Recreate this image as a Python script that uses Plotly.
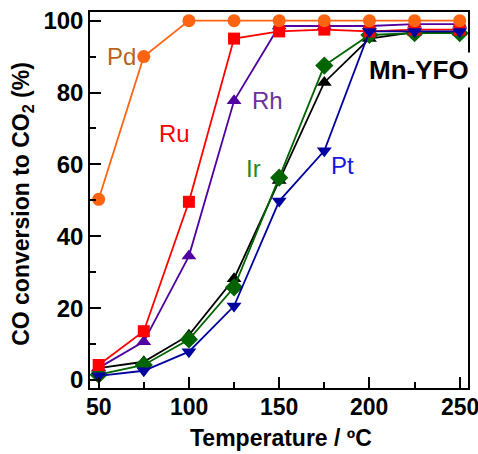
import plotly.graph_objects as go

temps = [50, 75, 100, 125, 150, 175, 200, 225, 250]
pd_vals = [50.3, 90, 100, 100, 100, 100, 100, 100, 100]
ru_vals = [4.2, 13.6, 49.6, 95, 97, 97.5, 97, 97.5, 97.5]
rh_vals = [3.4, 10.7, 34.5, 77.7, 98.5, 98.5, 98.5, 99, 99]
blk_vals = [3.3, 5.1, 12.5, 28.2, 55.5, 82.8, 95, 96.8, 96.8]
ir_vals = [1.5, 4.2, 11.3, 25.8, 56.3, 87.5, 96, 96.5, 96.5]
pt_vals = [1.2, 2.6, 7.9, 20.6, 49.8, 63.8, 97, 97, 97]

x_ticks = [50, 100, 150, 200, 250]
y_ticks = [0, 20, 40, 60, 80, 100]

FONT = "Arial, Liberation Sans, sans-serif"

series = [
    (blk_vals, "#000000", "triangle-up", 13),
    (ir_vals, "#006400", "diamond", 14),
    (rh_vals, "#5000A0", "triangle-up", 13),
    (ru_vals, "#FF0000", "square", 12),
    (pt_vals, "#0000A0", "triangle-down", 13),
    (pd_vals, "#FF6410", "circle", 13),
]

fig = go.Figure()
for vals, col, sym, sz in series:
    fig.add_trace(go.Scatter(
        x=temps, y=vals, mode="lines+markers",
        line=dict(color=col, width=1.8),
        marker=dict(symbol=sym, size=sz, color=col, line=dict(width=0)),
        showlegend=False, cliponaxis=False,
    ))

labels = [
    ("Pd", 62.5, 89.9, "#B5651D"),
    ("Ru", 91.9, 68.5, "#FF0000"),
    ("Rh", 143.4, 77.9, "#7030A0"),
    ("Ir", 135.7, 59.0, "#1E8C1E"),
    ("Pt", 185.0, 59.8, "#1515E6"),
]
for txt, xx, yy, col in labels:
    fig.add_annotation(x=xx, y=yy, text=txt, showarrow=False,
                       font=dict(family=FONT, size=24, color=col))

fig.add_annotation(x=227.6, y=86.3, text="<b>Mn-YFO</b>", showarrow=False,
                   bgcolor="white", borderpad=2,
                   font=dict(family=FONT, size=26, color="#000000"))

# x tick labels drawn as annotations at the data positions (so the last one is not dropped at the edge)
for t in x_ticks:
    fig.add_annotation(x=t, y=0, xref="x", yref="paper", yanchor="top", yshift=-4,
                       showarrow=False, text=f"<b>{t}</b>",
                       font=dict(family=FONT, size=23, color="black"))

# axis titles placed in paper coordinates (plot area: x 90..468, y 12..388 px)
fig.add_annotation(xref="paper", yref="paper", x=0.505, y=-0.1729,
                   xanchor="center", yanchor="bottom", showarrow=False,
                   text="<b>Temperature / ºC</b>",
                   font=dict(family=FONT, size=23, color="black"))
fig.add_annotation(xref="paper", yref="paper", x=-0.177, y=0.49,
                   xanchor="center", yanchor="middle", showarrow=False, textangle=-90,
                   text="<b>CO conversion to CO<sub>2</sub> (%)</b>",
                   font=dict(family=FONT, size=23, color="black"))

axis_common = dict(
    showline=True, linecolor="black", linewidth=1.5, mirror=True,
    ticks="inside", ticklen=11, tickwidth=1.5, tickcolor="black",
    showgrid=False, zeroline=False, automargin=False,
    tickfont=dict(family=FONT, size=24, color="black", weight="bold"),
)

fig.update_xaxes(
    range=[45.2, 254.6], tickvals=x_ticks, showticklabels=False,
    minor=dict(ticks="inside", ticklen=6, tickwidth=1.5, tickcolor="black", dtick=25, tick0=50, showgrid=False),
    **axis_common,
)
fig.update_yaxes(
    range=[-2.2, 102.4], tickvals=y_ticks,
    minor=dict(ticks="inside", ticklen=6, tickwidth=1.5, tickcolor="black", dtick=10, tick0=0, showgrid=False),
    **axis_common,
)

fig.update_layout(
    width=478, height=454,
    margin=dict(l=90, r=10, t=12, b=66),
    plot_bgcolor="white", paper_bgcolor="white",
)

fig.write_html("out.html")
